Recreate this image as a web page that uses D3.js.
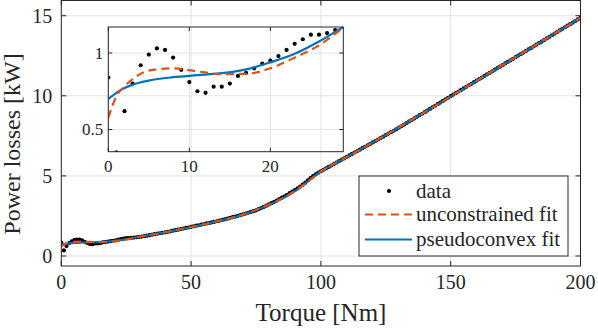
<!DOCTYPE html>
<html>
<head>
<meta charset="utf-8">
<script src="https://cdn.jsdelivr.net/npm/d3@7"></script>
<style>
  body { margin: 0; background: #fff; }
  svg { display: block; }
  svg text { fill: #262626; }
</style>
</head>
<body>
<svg id="chart" width="598" height="332"></svg>
<script>
// measured losses, one sample per Nm from 0 to 200
const powerData = [
  0.84, 0.35, 0.62, 0.80, 0.92, 0.99, 1.03, 1.02, 0.97, 0.89,
  0.81, 0.75, 0.74, 0.78, 0.78, 0.80, 0.85, 0.87, 0.90, 0.93,
  0.95, 0.98, 1.02, 1.06, 1.09, 1.12, 1.12, 1.13, 1.15, 1.17,
  1.19, 1.21, 1.24, 1.27, 1.30, 1.33, 1.36, 1.39, 1.42, 1.45,
  1.48, 1.51, 1.54, 1.58, 1.61, 1.64, 1.68, 1.71, 1.75, 1.78,
  1.82, 1.85, 1.89, 1.92, 1.96, 1.99, 2.03, 2.06, 2.10, 2.13,
  2.17, 2.21, 2.25, 2.29, 2.33, 2.38, 2.42, 2.46, 2.51, 2.55,
  2.60, 2.65, 2.70, 2.75, 2.80, 2.85, 2.92, 2.99, 3.06, 3.14,
  3.22, 3.30, 3.38, 3.46, 3.55, 3.64, 3.73, 3.82, 3.92, 4.02,
  4.12, 4.22, 4.33, 4.45, 4.58, 4.72, 4.86, 4.99, 5.10, 5.20,
  5.29, 5.38, 5.47, 5.56, 5.65, 5.74, 5.83, 5.92, 6.01, 6.10,
  6.19, 6.28, 6.37, 6.46, 6.55, 6.64, 6.73, 6.82, 6.91, 7.00,
  7.09, 7.18, 7.27, 7.36, 7.45, 7.55, 7.64, 7.73, 7.82, 7.91,
  8.01, 8.10, 8.20, 8.30, 8.40, 8.49, 8.59, 8.69, 8.79, 8.88,
  8.98, 9.08, 9.18, 9.28, 9.38, 9.48, 9.58, 9.68, 9.78, 9.88,
  9.98, 10.08, 10.17, 10.27, 10.37, 10.46, 10.56, 10.66, 10.75, 10.85,
  10.95, 11.05, 11.14, 11.24, 11.34, 11.43, 11.53, 11.63, 11.73, 11.82,
  11.92, 12.02, 12.12, 12.21, 12.31, 12.41, 12.51, 12.60, 12.70, 12.80,
  12.90, 12.99, 13.09, 13.19, 13.29, 13.38, 13.48, 13.58, 13.68, 13.78,
  13.88, 13.98, 14.08, 14.18, 14.28, 14.38, 14.47, 14.57, 14.67, 14.77,
  14.87
]
const torqueStep = 1

const fitTorque = [0, 1, 2, 3, 5, 8, 11, 14, 17, 20, 23, 26, 29, 35, 40, 50, 60, 70, 80, 85, 90, 95, 100, 105, 110, 120, 140, 160, 180, 200]
const pseudoconvexFit = [0.70, 0.74, 0.772, 0.793, 0.82, 0.842, 0.855, 0.868, 0.893, 0.939, 0.995, 1.075, 1.17, 1.33, 1.48, 1.80, 2.16, 2.58, 3.20, 3.58, 4.05, 4.66, 5.28, 5.74, 6.18, 7.08, 8.97, 10.94, 12.89, 14.87]
const unconstrainedFit = [0.576, 0.717, 0.783, 0.83, 0.885, 0.90, 0.88, 0.862, 0.864, 0.90, 0.97, 1.05, 1.163, 1.33, 1.48, 1.81, 2.17, 2.59, 3.21, 3.59, 4.06, 4.64, 5.27, 5.74, 6.18, 7.09, 8.98, 10.95, 12.9, 14.86]

const xTicks = [0, 50, 100, 150, 200]
const yTicks = [0, 5, 10, 15]
const insetXTicks = [0, 10, 20]
const insetYTicks = [0.5, 1]
const insetMaxTorque = 29

const legendLabels = ['data', 'unconstrained fit', 'pseudoconvex fit']

const blue = '#0072BD'
const orange = '#D95319'
const axisColor = '#262626'
const gridColor = '#e3e3e3'
const serif = "'Liberation Serif', 'DejaVu Serif', 'Noto Serif', 'FreeSerif', Tinos, 'Times New Roman', Times, Georgia, serif"

const svg = d3.select('#chart')

const points = powerData.map((p, i) => ({ t: i * torqueStep, p: p }))
const fitPseudo = fitTorque.map((t, i) => ({ t: t, p: pseudoconvexFit[i] }))
const fitUnc = fitTorque.map((t, i) => ({ t: t, p: unconstrainedFit[i] }))

function drawAxes(g, x, y, opts) {
    const [x0, x1] = x.range()
    const [y0, y1] = y.range()

    g.append('g').selectAll('line.gx')
        .data(opts.xTicks).enter().append('line')
        .attr('x1', d => x(d)).attr('x2', d => x(d))
        .attr('y1', y0).attr('y2', y1)
        .attr('stroke', gridColor).attr('stroke-width', 1)
    g.append('g').selectAll('line.gy')
        .data(opts.yTicks).enter().append('line')
        .attr('x1', x0).attr('x2', x1)
        .attr('y1', d => y(d)).attr('y2', d => y(d))
        .attr('stroke', gridColor).attr('stroke-width', 1)
}

function drawFrame(g, x, y, opts) {
    const [x0, x1] = x.range()
    const [y0, y1] = y.range()
    const tl = opts.tickLen

    g.append('rect')
        .attr('x', x0).attr('y', y1)
        .attr('width', x1 - x0).attr('height', y0 - y1)
        .attr('fill', 'none').attr('stroke', axisColor).attr('stroke-width', 1)

    const ticks = g.append('g').attr('stroke', axisColor).attr('stroke-width', 1)
    opts.xTicks.forEach(t => {
        ticks.append('line').attr('x1', x(t)).attr('x2', x(t)).attr('y1', y0).attr('y2', y0 - tl)
        ticks.append('line').attr('x1', x(t)).attr('x2', x(t)).attr('y1', y1).attr('y2', y1 + tl)
    })
    opts.yTicks.forEach(t => {
        ticks.append('line').attr('x1', x0).attr('x2', x0 + tl).attr('y1', y(t)).attr('y2', y(t))
        ticks.append('line').attr('x1', x1).attr('x2', x1 - tl).attr('y1', y(t)).attr('y2', y(t))
    })

    g.append('g').selectAll('text')
        .data(opts.xTicks).enter().append('text')
        .attr('x', d => x(d)).attr('y', y0 + opts.xLabelDy)
        .attr('text-anchor', 'middle')
        .attr('font-family', serif)
        .attr('font-size', opts.fontSize)
        .text(d => d)
    g.append('g').selectAll('text')
        .data(opts.yTicks).enter().append('text')
        .attr('x', x0 - opts.yLabelDx).attr('y', d => y(d))
        .attr('dy', '0.34em')
        .attr('text-anchor', 'end')
        .attr('font-family', serif)
        .attr('font-size', opts.fontSize)
        .text(d => d)
}

function drawSeries(g, x, y, clipId, pts, fits) {
    const [x0, x1] = x.range()
    const [y0, y1] = y.range()
    g.append('clipPath').attr('id', clipId)
        .append('rect').attr('x', x0).attr('y', y1).attr('width', x1 - x0).attr('height', y0 - y1)

    const body = g.append('g').attr('clip-path', `url(#${clipId})`)

    body.selectAll('circle')
        .data(pts).enter().append('circle')
        .attr('cx', d => x(d.t)).attr('cy', d => y(d.p))
        .attr('r', 2.1).attr('fill', '#000')

    const line = d3.line().x(d => x(d.t)).y(d => y(d.p)).curve(d3.curveMonotoneX)

    body.append('path').datum(fits.pseudo)
        .attr('d', line).attr('fill', 'none')
        .attr('stroke', blue).attr('stroke-width', 2.2)
    body.append('path').datum(fits.unc)
        .attr('d', line).attr('fill', 'none')
        .attr('stroke', orange).attr('stroke-width', 2.2)
        .attr('stroke-dasharray', '8,5')
}

// main axes
const x = d3.scaleLinear().domain([0, 200]).range([61.3, 580.5])
const y = d3.scaleLinear().domain([-0.625, 15.95]).range([266, 0.5])
const main = svg.append('g')
const mainOpts = { xTicks: xTicks, yTicks: yTicks, tickLen: 5, fontSize: 20, xLabelDy: 23, yLabelDx: 9 }

drawAxes(main, x, y, mainOpts)
drawSeries(main, x, y, 'clip-main', points, { pseudo: fitPseudo, unc: fitUnc })
drawFrame(main, x, y, mainOpts)

main.append('text')
    .attr('x', 321).attr('y', 321)
    .attr('text-anchor', 'middle')
    .attr('font-family', serif)
    .attr('font-size', 25)
    .text('Torque [Nm]')
main.append('text')
    .attr('transform', 'translate(20,144) rotate(-90)')
    .attr('text-anchor', 'middle')
    .attr('font-family', serif)
    .attr('font-size', 24)
    .text('Power losses [kW]')

// inset axes
const xi = d3.scaleLinear().domain([0, insetMaxTorque]).range([108.3, 343.3])
const yi = d3.scaleLinear().domain([0.355, 1.17]).range([151.7, 27])
const inset = svg.append('g')
const insetOpts = { xTicks: insetXTicks, yTicks: insetYTicks, tickLen: 4, fontSize: 17, xLabelDy: 20, yLabelDx: 5 }

drawAxes(inset, xi, yi, insetOpts)
drawSeries(inset, xi, yi, 'clip-inset',
    points.filter(d => d.t <= insetMaxTorque),
    { pseudo: fitPseudo.filter(d => d.t <= insetMaxTorque + 6), unc: fitUnc.filter(d => d.t <= insetMaxTorque + 6) })
drawFrame(inset, xi, yi, insetOpts)

// legend
const legend = svg.append('g')
legend.append('rect')
    .attr('x', 359).attr('y', 176)
    .attr('width', 209).attr('height', 80)
    .attr('fill', '#fff').attr('stroke', axisColor).attr('stroke-width', 1)

const rowY = [191, 214.5, 239.5]
legendLabels.forEach((label, i) => {
    const ly = rowY[i]
    if (i === 0) {
        legend.append('circle').attr('cx', 389).attr('cy', ly).attr('r', 2.1).attr('fill', '#000')
    } else {
        legend.append('line')
            .attr('x1', 365).attr('x2', 412).attr('y1', ly).attr('y2', ly)
            .attr('stroke', i === 1 ? orange : blue).attr('stroke-width', 2.2)
            .attr('stroke-dasharray', i === 1 ? '8,5' : null)
    }
    legend.append('text')
        .attr('x', 416).attr('y', ly).attr('dy', '0.32em')
        .attr('font-family', serif)
        .attr('font-size', 21)
        .text(label)
})
</script>
</body>
</html>
